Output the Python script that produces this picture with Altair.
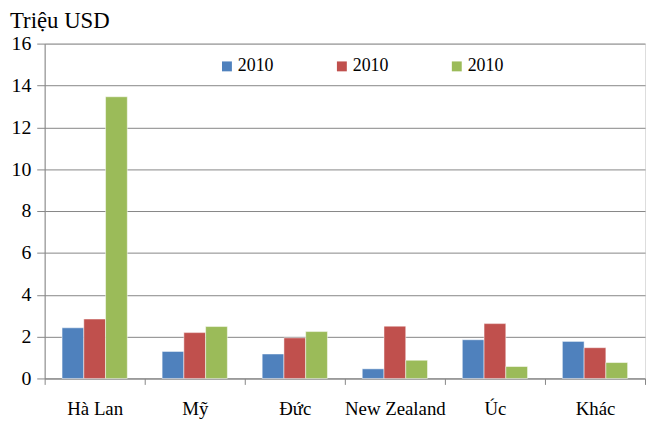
import altair as alt
import pandas as pd

categories = ["Hà Lan", "Mỹ", "Đức", "New Zealand", "Úc", "Khác"]
series_keys = ["s1", "s2", "s3"]
series_labels = ["2010", "2010", "2010"]
colors = ["#4F81BD", "#C0504D", "#9BBB59"]
s1 = [2.42, 1.29, 1.17, 0.46, 1.85, 1.77]
s2 = [2.84, 2.19, 1.94, 2.50, 2.62, 1.47]
s3 = [13.46, 2.48, 2.24, 0.87, 0.57, 0.76]

rows = []
for key, vals in zip(series_keys, [s1, s2, s3]):
    for c, v in zip(categories, vals):
        rows.append({"cat": c, "series": key, "value": v})
df = pd.DataFrame(rows)

FONT = "'Liberation Serif', 'Times New Roman', serif"
GRID = "#868686"

chart = alt.Chart(df).mark_bar(stroke="white", strokeWidth=0.5).encode(
    x=alt.X("cat:N", sort=categories, title=None,
            scale=alt.Scale(paddingInner=0, paddingOuter=0),
            axis=alt.Axis(labelAngle=0, labelFont=FONT, labelFontSize=19,
                          labelColor="black", tickBand="extent", tickSize=6,
                          tickColor=GRID, domainColor=GRID, labelPadding=15)),
    xOffset=alt.XOffset("series:N", sort=series_keys,
                        scale=alt.Scale(paddingInner=0, paddingOuter=0.8)),
    y=alt.Y("value:Q", title=None,
            scale=alt.Scale(domain=[0, 16]),
            axis=alt.Axis(values=list(range(0, 17, 2)), labelFont=FONT,
                          labelFontSize=20, labelColor="black", tickSize=8,
                          tickColor=GRID, domainColor=GRID, gridColor=GRID,
                          labelPadding=6)),
    color=alt.Color("series:N", sort=series_keys,
                    scale=alt.Scale(domain=series_keys, range=colors),
                    legend=alt.Legend(title=None, orient="none", legendX=175,
                                      legendY=14, direction="horizontal",
                                      columns=3, symbolType="square",
                                      symbolSize=100, symbolStrokeWidth=0,
                                      labelFont=FONT, labelFontSize=18,
                                      labelColor="black", labelOffset=2,
                                      columnPadding=60,
                                      labelExpr="'2010'")),
).properties(
    width=606, height=338,
    title=alt.TitleParams("Triệu USD", anchor="start", frame="group", dx=-35,
                          offset=1, font=FONT, fontSize=23,
                          fontWeight="normal", color="black"),
    autosize=alt.AutoSizeParams(type="none"),
    padding={"left": 37, "top": 34, "right": 2, "bottom": 40},
).configure_view(stroke=None).configure(background="white")

chart.save("out.html", embed_options={"renderer": "svg", "actions": False})
